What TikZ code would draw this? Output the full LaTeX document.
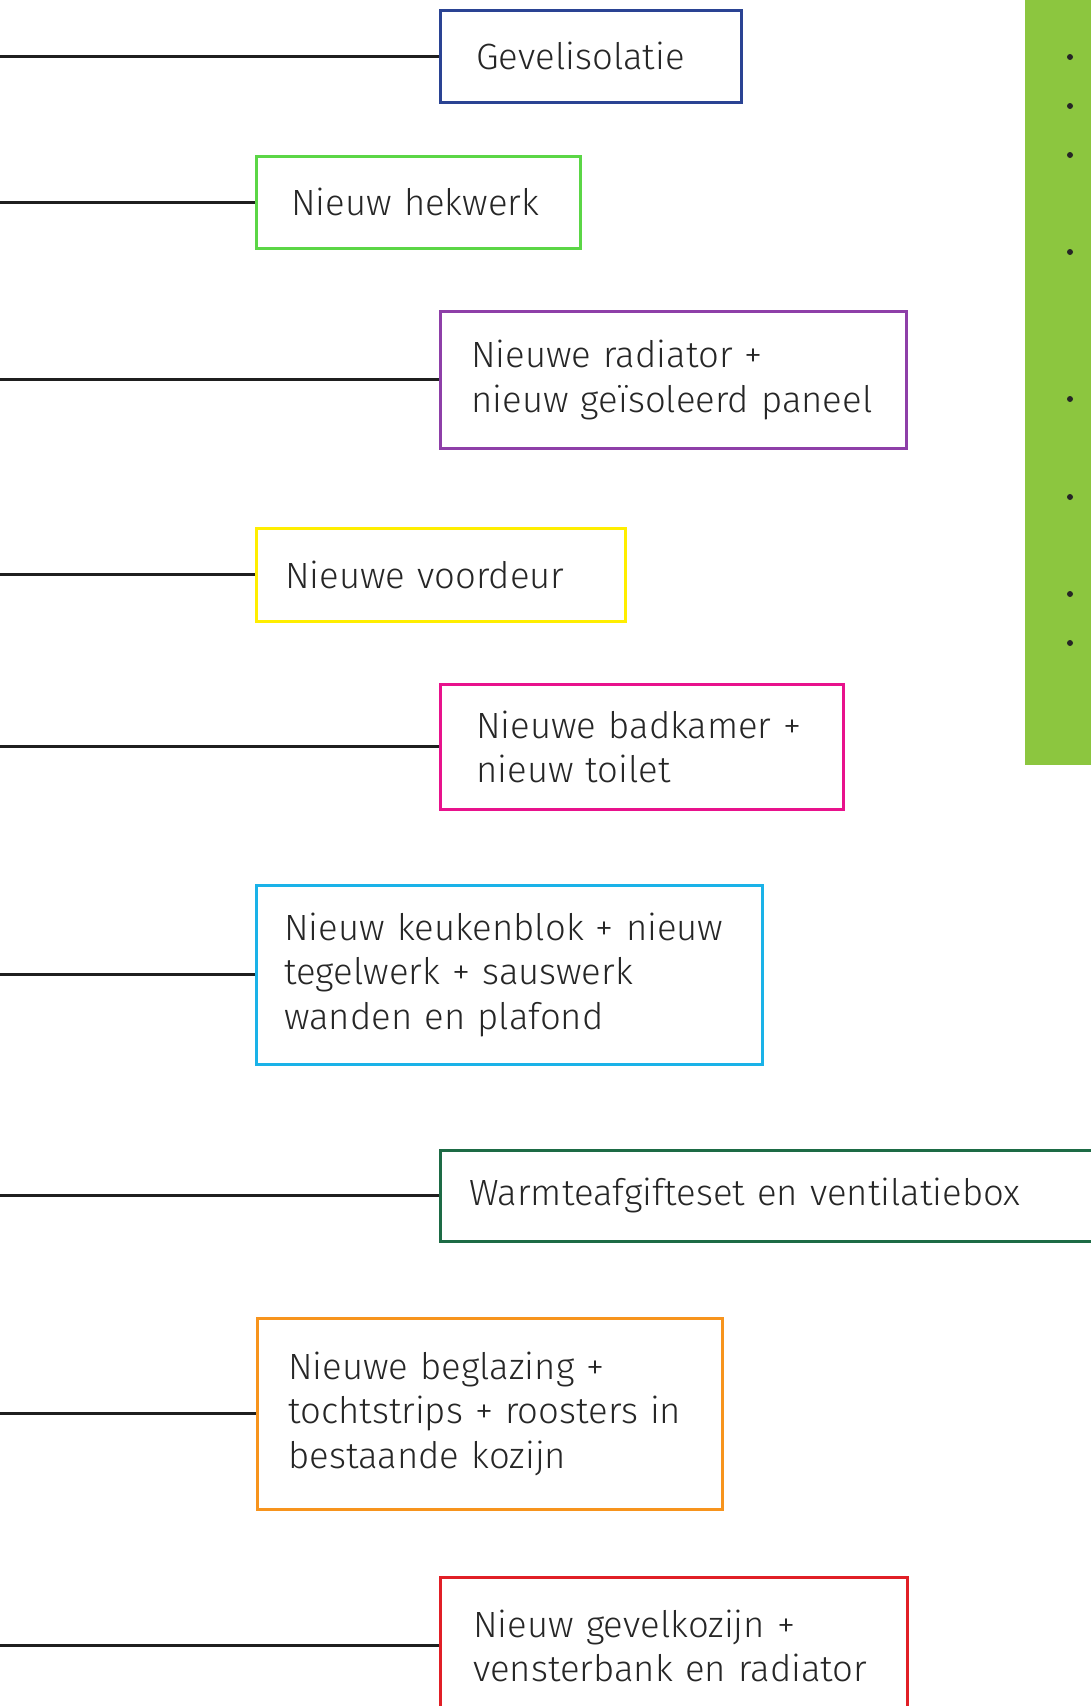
\documentclass[tikz,border=0pt]{standalone}
\usepackage{fontspec}
\setmainfont{Fira Sans}[UprightFont={* Light}]
\newcommand\oneline[1]{\mbox{#1}}
\begin{document}
\begin{tikzpicture}[x=1pt,y=-1pt,
  lbl/.style={draw, line width=2.6pt, anchor=north west, align=left,
    font=\fontsize{36.5}{44.6}\selectfont, text=black!85, inner ysep=0pt},
  conn/.style={line width=2.8pt, draw=black!88},
  bul/.style={circle, fill=black!85, inner sep=0pt, minimum size=6pt}]
\definecolor{cblue}{HTML}{2A4393}
\definecolor{cgreen}{HTML}{5BD646}
\definecolor{cpurple}{HTML}{8E3FA8}
\definecolor{cyellow}{HTML}{FFEE00}
\definecolor{cmagenta}{HTML}{E8128C}
\definecolor{ccyan}{HTML}{1AB2E8}
\definecolor{cdgreen}{HTML}{1D6B45}
\definecolor{corange}{HTML}{F7941D}
\definecolor{cred}{HTML}{E11F26}
\definecolor{cbar}{HTML}{8CC63F}
\useasboundingbox (0,0) rectangle (1091,1706);
\clip (0,0) rectangle (1091,1706);
\coordinate (origin) at (0,0);
% green side bar
\fill[cbar] (1025,0) rectangle (1100,765);
\foreach \yy [count=\i] in {57,106,155,252,399,497,594,643}
  \node[bul] (bul\i) at (1070,\yy) {};
% boxes
\node[lbl, draw=cblue, inner xsep=36pt, text width=301pt-72pt, minimum height=92pt] (b1) at (439,9) {\oneline{Gevelisolatie}};
\node[lbl, draw=cgreen, inner xsep=35pt, text width=324pt-70pt, minimum height=92pt] (b2) at (255,155) {\oneline{Nieuw hekwerk}};
\node[lbl, draw=cpurple, inner xsep=31pt, text width=466pt-62pt, minimum height=137pt] (b3) at (439,310) {\oneline{Nieuwe radiator +}\\\oneline{nieuw geïsoleerd paneel}};
\node[lbl, draw=cyellow, inner xsep=29pt, text width=369pt-58pt, minimum height=93pt] (b4) at (255,527) {\oneline{Nieuwe voordeur}};
\node[lbl, draw=cmagenta, inner xsep=36pt, text width=403pt-72pt, minimum height=125pt] (b5) at (439,683) {\oneline{Nieuwe badkamer +}\\\oneline{nieuw toilet}};
\node[lbl, draw=ccyan, inner xsep=28pt, text width=506pt-56pt, minimum height=179pt] (b6) at (255,884) {\oneline{Nieuw keukenblok + nieuw}\\\oneline{tegelwerk + sauswerk}\\\oneline{wanden en plafond}};
\node[lbl, draw=cdgreen, inner xsep=29pt, text width=680pt-58pt, minimum height=91pt] (b7) at (439,1149) {\oneline{Warmteafgifteset en ventilatiebox}};
\node[lbl, draw=corange, inner xsep=31pt, text width=465pt-62pt, minimum height=191pt] (b8) at (256,1317) {\oneline{Nieuwe beglazing +}\\\oneline{tochtstrips + roosters in}\\\oneline{bestaande kozijn}};
\node[lbl, draw=cred, inner xsep=33pt, text width=467pt-66pt, minimum height=137pt] (b9) at (439,1576) {\oneline{Nieuw gevelkozijn +}\\\oneline{vensterbank en radiator}};
% connectors
\foreach \i in {1,...,9} {
  \coordinate (s\i) at (b\i.west -| origin);
  \draw[conn] (s\i) -- (b\i.west);
}
\end{tikzpicture}
\end{document}
